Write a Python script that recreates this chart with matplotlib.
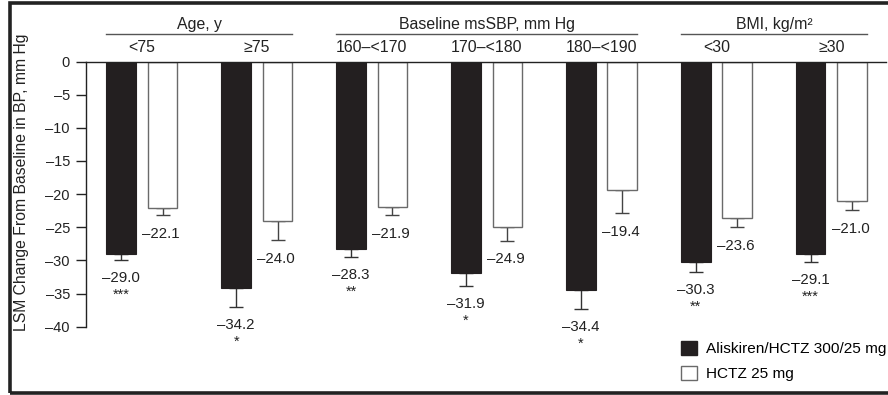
import matplotlib
matplotlib.use("Agg")
import matplotlib.pyplot as plt
from matplotlib.patches import Patch, Rectangle
import matplotlib.transforms as mtransforms
import numpy as np

plt.rcParams["font.family"] = ["Liberation Sans", "DejaVu Sans"]
plt.rcParams["font.size"] = 10

# data
subgroups = ["<75", "\u226575", "160\u2013<170", "170\u2013<180", "180\u2013<190", "<30", "\u226530"]
combo_vals = [-29.0, -34.2, -28.3, -31.9, -34.4, -30.3, -29.1]
combo_err = [1.0, 2.9, 1.2, 2.0, 3.0, 1.5, 1.2]
hctz_vals = [-22.1, -24.0, -21.9, -24.9, -19.4, -23.6, -21.0]
hctz_err = [1.1, 2.9, 1.3, 2.1, 3.4, 1.4, 1.4]
stars = ["***", "*", "**", "*", "*", "**", "***"]
headers = ["Age, y", "Baseline msSBP, mm Hg", "BMI, kg/m\u00b2"]
header_span = [(0, 1), (2, 4), (5, 6)]

BLACK = "#231f20"
GREY = "#6a6a6a"
TXT = "#222222"

fig = plt.figure(figsize=(8.88, 3.95), dpi=100)
ax = fig.add_axes([0.0968, 0.1729, 0.9009, 0.6714])

x = np.arange(len(subgroups))
w = 0.257
off = 0.18

ax.bar(x - off, combo_vals, w, color=BLACK, edgecolor=BLACK, linewidth=0.8, zorder=2)
ax.bar(x + off, hctz_vals, w, color="white", edgecolor=GREY, linewidth=1.0, zorder=2)

# downward-only error bars
ax.errorbar(x - off, combo_vals, yerr=[combo_err, [0] * len(x)], fmt="none",
            ecolor="#333333", elinewidth=1.0, capsize=5, capthick=1.0, zorder=1)
ax.errorbar(x + off, hctz_vals, yerr=[hctz_err, [0] * len(x)], fmt="none",
            ecolor="#444444", elinewidth=1.0, capsize=5, capthick=1.0, zorder=1)

def fmt(v):
    return f"{v:.1f}".replace("-", "\u2013")

for i in range(len(x)):
    yb = combo_vals[i] - combo_err[i]
    ax.annotate(fmt(combo_vals[i]), (x[i] - off, yb), xytext=(0, -15.5),
                textcoords="offset points", ha="center", va="baseline", fontsize=10.8,
                color=TXT, annotation_clip=False)
    ax.annotate(stars[i], (x[i] - off, yb), xytext=(0, -27.5),
                textcoords="offset points", ha="center", va="baseline", fontsize=10.5,
                color=TXT, annotation_clip=False)
    yw = hctz_vals[i] - hctz_err[i]
    ax.annotate(fmt(hctz_vals[i]), (x[i] + off, yw), xytext=(-1, -16.5),
                textcoords="offset points", ha="center", va="baseline", fontsize=10.8,
                color=TXT, annotation_clip=False)

ax.set_ylim(-40, 0)
ax.set_xlim(-0.487, 6.475)
ax.set_yticks(np.arange(0, -41, -5))
ax.set_yticklabels([str(t).replace("-", "\u2013") for t in range(0, -41, -5)])
ax.set_xticks([])
ax.tick_params(axis="y", direction="out", length=7.5, width=1.0, colors=TXT,
               labelsize=10.5, pad=4)
for s in ["right", "bottom"]:
    ax.spines[s].set_visible(False)
for s in ["left", "top"]:
    ax.spines[s].set_color(TXT)
    ax.spines[s].set_linewidth(1.0)
ax.set_ylabel("LSM Change From Baseline in BP, mm Hg", fontsize=11.3, color=TXT)
ax.yaxis.set_label_coords(-0.0706, 0.543)

# headers above the plot
trans = mtransforms.blended_transform_factory(ax.transData, ax.transAxes)
for i, lab in enumerate(subgroups):
    ax.text(x[i], 1.052, lab, transform=trans, ha="center", va="center",
            fontsize=11.4, color=TXT, clip_on=False)
for lab, (a, b) in zip(headers, header_span):
    x0 = x[a] - off - w / 2
    x1 = x[b] + off + w / 2
    ax.plot([x0, x1], [1.104, 1.104], transform=trans, color="#555555",
            lw=1.0, clip_on=False)
    ax.text((x0 + x1) / 2, 1.14, lab, transform=trans, ha="center", va="center",
            fontsize=11.4, color=TXT, clip_on=False)

handles = [Patch(facecolor=BLACK, edgecolor=BLACK, label="Aliskiren/HCTZ 300/25 mg"),
           Patch(facecolor="white", edgecolor=GREY, label="HCTZ 25 mg")]
fig.legend(handles=handles, loc="lower left", bbox_to_anchor=(680.5 / 888, 14 / 395),
           frameon=False, fontsize=11.1, handlelength=1.04, handleheight=1.04,
           handletextpad=0.6, labelspacing=0.6, borderpad=0.0, borderaxespad=0.0)

# outer frame
fig.add_artist(Rectangle((9.5 / 888, 1.8 / 395), 1.2, 390.5 / 395, transform=fig.transFigure,
                         fill=False, edgecolor=TXT, linewidth=2.6, clip_on=False))

fig.savefig("out.png", dpi=100)
